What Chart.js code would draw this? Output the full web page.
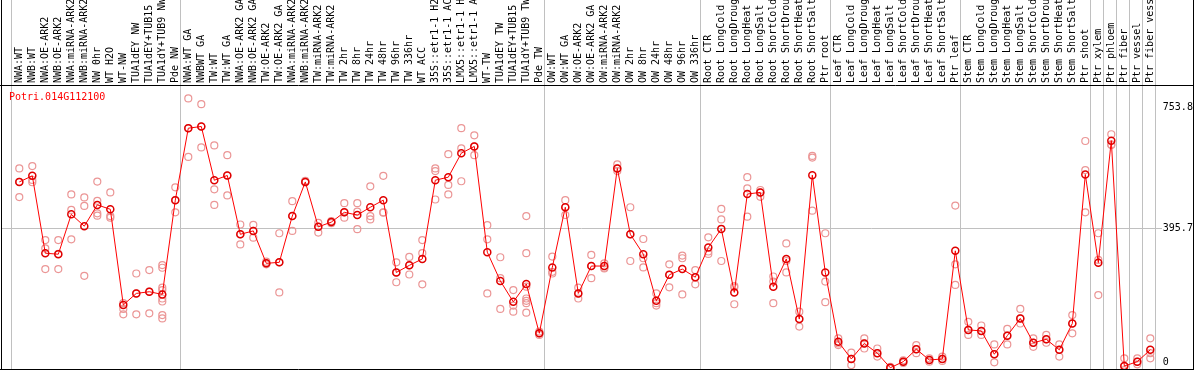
<!DOCTYPE html>
<html>
<head>
<meta charset="utf-8">
<script src="https://cdn.jsdelivr.net/npm/chart.js@4.4.0/dist/chart.umd.min.js"></script>
<style>
    body { margin: 0; background: #fff; }
    canvas { display: block; }
</style>
</head>
<body>
<canvas id="expr-chart" width="1194" height="370"></canvas>
<script>
const geneName = 'Potri.014G112100';

const categories = [
    'NWA:WT', 'NWB:WT', 'NWA:OE-ARK2', 'NWB:OE-ARK2', 'NWA:miRNA-ARK2', 'NWB:miRNA-ARK2',
    'NW 0hr', 'WT H2O', 'WT-NW', 'TUA1dEY NW', 'TUA1dEY+TUB15 NW', 'TUA1dY+TUB9 NW', 'Pde NW',
    'NWA:WT GA', 'NWBWT GA', 'TW:WT', 'TW:WT GA', 'NWA:OE-ARK2 GA', 'NWB:OE-ARK2 GA',
    'TW:OE-ARK2', 'TW:OE-ARK2 GA', 'NWA:miRNA-ARK2 GA', 'NWB:miRNA-ARK2 GA', 'TW:miRNA-ARK2',
    'TW:miRNA-ARK2 GA', 'TW 2hr', 'TW 8hr', 'TW 24hr', 'TW 48hr', 'TW 96hr', 'TW 336hr', 'WT ACC',
    '35S::etr1-1 H2O', '35S::etr1-1 ACC', 'LMX5::etr1-1 H2O', 'LMX5::etr1-1 ACC', 'WT-TW',
    'TUA1dEY TW', 'TUA1dEY+TUB15 TW', 'TUA1dY+TUB9 TW', 'Pde TW',
    'OW:WT', 'OW:WT GA', 'OW:OE-ARK2', 'OW:OE-ARK2 GA', 'OW:miRNA-ARK2', 'OW:miRNA-ARK2 GA',
    'OW 2hr', 'OW 8hr', 'OW 24hr', 'OW 48hr', 'OW 96hr', 'OW 336hr',
    'Root CTR', 'Root LongCold', 'Root LongDrought', 'Root LongHeat', 'Root LongSalt',
    'Root ShortCold', 'Root ShortDrought', 'Root ShortHeat', 'Root ShortSalt', 'Ptr root',
    'Leaf CTR', 'Leaf LongCold', 'Leaf LongDrought', 'Leaf LongHeat', 'Leaf LongSalt',
    'Leaf ShortCold', 'Leaf ShortDrought', 'Leaf ShortHeat', 'Leaf ShortSalt', 'Ptr leaf',
    'Stem CTR', 'Stem LongCold', 'Stem LongDrought', 'Stem LongHeat', 'Stem LongSalt',
    'Stem ShortCold', 'Stem ShortDrought', 'Stem ShortHeat', 'Stem ShortSalt', 'Ptr shoot',
    'Ptr xylem', 'Ptr phloem', 'Ptr fiber', 'Ptr vessel', 'Ptr fiber vessel'
];

const means = [
    533, 551, 322, 319, 437, 402, 465, 452, 169, 203, 208, 200, 479,
    692, 697, 538, 552, 378, 388, 292, 295, 432, 533, 400, 414, 443, 435, 458, 479,
    265, 286, 305, 538, 547, 618, 638, 325, 240, 178, 231, 85,
    280, 458, 203, 284, 284, 573, 378, 319, 181, 258, 275, 251,
    339, 394, 206, 497, 502, 223, 305, 127, 553, 265,
    60, 9, 55, 26, -17, 1, 38, 6, 9, 329,
    95, 92, 23, 78, 129, 57, 67, 36, 114, 555,
    294, 655, -12, 1, 36
];

const replicates = [
    [573, 533, 488], [580, 539, 532], [361, 336, 275], [361, 320, 275], [496, 450, 363],
    [487, 462, 255], [534, 477, 440, 433], [502, 432, 427], [174, 157, 141], [262, 203, 141],
    [272, 208, 144], [287, 279, 220, 213, 188, 179, 139, 129], [517, 479, 443],
    [780, 692, 607], [763, 697, 635], [641, 511, 465], [612, 552, 493], [407, 378, 348],
    [406, 388, 368], [297, 292, 289], [381, 295, 206], [476, 432, 388], [536, 533, 532],
    [412, 400, 383], [417, 414, 411], [470, 443, 427], [470, 445, 393], [520, 432, 422],
    [551, 443, 442], [295, 265, 236], [311, 286, 259], [361, 322, 230], [573, 565, 481],
    [615, 524, 496], [692, 632, 535], [671, 638, 612], [405, 363, 203], [310, 248, 157],
    [213, 167, 149], [432, 322, 223, 188, 181, 174, 146], [90, 85, 80],
    [312, 267, 262], [479, 458, 435], [220, 203, 188], [317, 284, 248], [292, 279, 277],
    [585, 573, 565], [458, 378, 299], [364, 307, 280], [203, 174, 167], [289, 258, 221],
    [315, 307, 200], [272, 251, 230],
    [369, 327, 320], [453, 422, 299], [225, 221, 171], [547, 514, 430], [509, 502, 489],
    [253, 238, 174], [351, 299, 265], [149, 127, 105], [610, 605, 448], [381, 238, 177],
    [70, 55, 50], [28, 9, -9], [70, 55, 40], [40, 26, 16], [-14, -17, -20],
    [5, 1, -3], [50, 38, 26], [11, 6, 1], [16, 9, 3], [463, 289, 228],
    [119, 95, 80], [108, 92, 80], [52, 23, -1], [98, 78, 52], [157, 129, 114],
    [70, 57, 45], [80, 67, 57], [52, 36, 16], [139, 114, 85], [654, 568, 443],
    [381, 302, 198], [674, 644, 642], [11, -12, -24], [11, 1, -7], [70, 26, 11]
];

const yTicks = [0, 395.7, 753.8];
const midLine = 395.7;
// index of the first category of each block (plus the end)
const groupBreaks = [0, 13, 41, 53, 63, 73, 83, 84, 85, 86, 87, 88];

const monoFont = { family: '"DejaVu Sans Mono", monospace', size: 10 };

const replicatePoints = [];
replicates.forEach(function (vals, i) {
    vals.forEach(function (v) {
        replicatePoints.push({ x: categories[i], y: v });
    });
});

const framePlugin = {
    id: 'frame',
    beforeDatasetsDraw(chart) {
        const ctx = chart.ctx;
        const xs = chart.scales.x;
        const ys = chart.scales.y;
        const bw = (xs.right - xs.left) / categories.length;
        ctx.save();
        ctx.strokeStyle = '#c0c0c0';
        ctx.lineWidth = 1;
        ctx.beginPath();
        groupBreaks.forEach(function (k) {
            const x = Math.round(xs.left + k * bw - 1.8) + 0.5;
            ctx.moveTo(x, 0);
            ctx.lineTo(x, chart.chartArea.bottom);
        });
        const gy = Math.round(ys.getPixelForValue(midLine)) + 0.5;
        ctx.moveTo(1, gy);
        ctx.lineTo(1162, gy);
        ctx.stroke();

        ctx.fillStyle = '#ff0000';
        ctx.font = '10px "DejaVu Sans Mono", monospace';
        ctx.textBaseline = 'middle';
        ctx.fillText(geneName, 9, 97);
        ctx.restore();
    },
    afterDraw(chart) {
        const ctx = chart.ctx;
        const w = chart.width;
        const top = chart.chartArea.top;
        const bottom = chart.chartArea.bottom;
        ctx.save();
        ctx.strokeStyle = '#000';
        ctx.lineWidth = 1;
        ctx.beginPath();
        ctx.moveTo(1.5, 0);
        ctx.lineTo(1.5, bottom + 1);
        ctx.moveTo(w - 0.5, 0);
        ctx.lineTo(w - 0.5, bottom + 1);
        ctx.moveTo(0, top + 0.5);
        ctx.lineTo(w, top + 0.5);
        ctx.moveTo(0, bottom + 0.5);
        ctx.lineTo(w, bottom + 0.5);
        ctx.stroke();
        ctx.restore();
    }
};

new Chart(document.getElementById('expr-chart'), {
    type: 'line',
    data: {
        labels: categories,
        datasets: [{
            label: 'mean',
            data: means,
            borderColor: '#ff0000',
            borderWidth: 1,
            pointRadius: 3.5,
            pointBorderColor: '#e00000',
            pointBackgroundColor: 'rgba(0,0,0,0)',
            pointBorderWidth: 1.5,
            tension: 0,
            clip: 0,
            order: 0
        }, {
            label: 'replicates',
            data: replicatePoints,
            showLine: false,
            pointRadius: 3.5,
            pointBorderColor: 'rgb(235,150,150)',
            pointBackgroundColor: 'rgba(0,0,0,0)',
            pointBorderWidth: 1.2,
            clip: 0,
            order: 1
        }]
    },
    options: {
        responsive: false,
        animation: false,
        layout: {
            autoPadding: false,
            padding: { left: 12.8, right: 0, top: 0, bottom: 1 }
        },
        plugins: {
            legend: { display: false },
            tooltip: { enabled: false }
        },
        scales: {
            x: {
                type: 'category',
                position: 'top',
                offset: true,
                grid: { display: false, drawTicks: false },
                border: { display: false },
                ticks: {
                    autoSkip: false,
                    minRotation: 90,
                    maxRotation: 90,
                    padding: 2,
                    labelOffset: 12,
                    color: '#000',
                    font: monoFont
                },
                afterFit(scale) {
                    scale.height = 85;
                    scale.paddingLeft = 0;
                    scale.paddingRight = 0;
                }
            },
            y: {
                position: 'right',
                min: -20.7,
                max: 819.8,
                grid: { display: false, drawTicks: false },
                border: { display: false },
                afterBuildTicks(scale) {
                    scale.ticks = yTicks.map(v => ({ value: v }));
                },
                ticks: {
                    padding: 6,
                    color: '#000',
                    font: monoFont,
                    callback: v => String(v)
                },
                afterFit(scale) {
                    scale.width = 37.2;
                    scale.paddingTop = 0;
                    scale.paddingBottom = 0;
                }
            }
        }
    },
    plugins: [framePlugin]
});
</script>
</body>
</html>
